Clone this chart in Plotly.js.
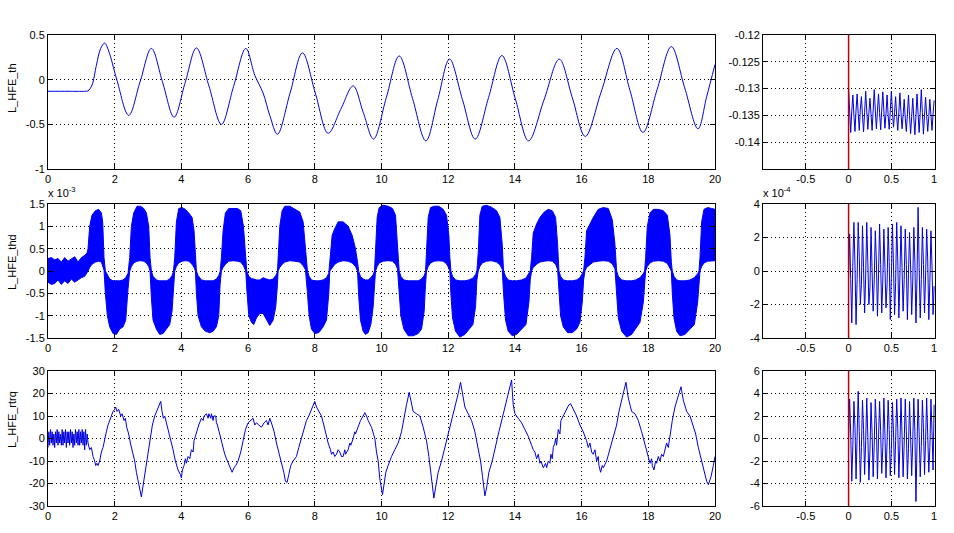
<!DOCTYPE html>
<html><head><meta charset="utf-8">
<script src="https://cdn.plot.ly/plotly-3.0.1.min.js"></script>
<style>html,body{margin:0;padding:0;background:#fff}#chart{width:954px;height:533px}</style>
</head><body><div id="chart"></div><script>
// ---------- data ----------
const thTime = [0,0.6,1.1,1.2,1.32,1.45,1.58,1.70,1.82,2.06,2.42,2.76,3.10,3.44,3.78,4.115,4.45,4.825,5.20,5.565,5.93,6.2,6.45,6.65,6.88,7.255,7.63,8.015,8.40,8.775,9.15,9.455,9.76,10.145,10.53,10.93,11.33,11.685,12.04,12.425,12.81,13.21,13.61,14.01,14.41,14.87,15.33,15.72,16.11,16.585,17.06,17.45,17.84,18.265,18.69,19.09,19.49,19.75,20.0];
const thValue = [-0.13,-0.13,-0.13,-0.125,-0.06,0.16,0.35,0.41,0.32,0.005,-0.40,-0.025,0.35,-0.035,-0.42,-0.03,0.355,-0.07,-0.50,-0.075,0.35,0.05,-0.15,-0.40,-0.61,-0.155,0.30,-0.15,-0.60,-0.335,-0.07,-0.37,-0.665,-0.20,0.265,-0.21,-0.685,-0.23,0.23,-0.22,-0.665,-0.20,0.27,-0.21,-0.685,-0.23,0.23,-0.20,-0.635,-0.14,0.35,-0.12,-0.59,-0.11,0.37,-0.09,-0.55,-0.19,0.17];

// L_HFE_thd envelope (units of 1e-3)
const thdTime = [0,0.1,0.2,0.3,0.4,0.5,0.6,0.7,0.8,0.9,1.0,1.1,1.17,
 1.2,1.25,1.32,1.42,1.52,1.6,1.64,1.68,
 1.72,1.78,1.85,1.95,2.05,2.15,2.25,2.33,2.40,
 2.45,2.5,2.57,2.67,2.77,2.87,2.95,3.02,3.06,
 3.1,3.15,3.25,3.35,3.45,3.55,3.65,3.72,3.76,
 3.8,3.85,3.92,4.02,4.12,4.22,4.32,4.38,4.42,
 4.45,4.5,4.6,4.72,4.85,4.95,5.05,5.12,5.16,
 5.2,5.25,5.32,5.42,5.55,5.68,5.78,5.86,5.93,
 5.96,6.02,6.1,6.17,6.25,6.35,6.45,6.55,6.65,6.75,6.83,6.88,
 6.9,6.95,7.02,7.1,7.25,7.4,7.55,7.65,7.72,
 7.78,7.83,7.9,8.0,8.12,8.25,8.35,8.42,
 8.45,8.52,8.6,8.7,8.85,9.0,9.12,9.22,9.28,
 9.32,9.37,9.45,9.52,9.6,9.68,9.75,9.79,
 9.82,9.87,9.93,10.05,10.2,10.33,10.42,10.48,
 10.53,10.58,10.67,10.8,10.95,11.1,11.2,11.28,11.32,
 11.35,11.4,11.47,11.58,11.72,11.85,11.95,12.02,12.05,
 12.08,12.13,12.22,12.35,12.5,12.62,12.74,12.82,12.86,
 12.9,12.95,13.02,13.15,13.3,13.45,13.55,13.62,
 13.66,13.72,13.8,13.92,14.05,14.2,14.33,14.42,14.46,
 14.5,14.55,14.65,14.75,14.88,15.0,15.12,15.22,15.28,
 15.32,15.37,15.45,15.58,15.72,15.85,15.95,16.02,16.06,
 16.1,16.15,16.25,16.35,16.5,16.65,16.8,16.92,17.0,
 17.05,17.1,17.2,17.35,17.5,17.62,17.75,17.85,17.89,
 17.92,17.97,18.05,18.15,18.3,18.45,18.57,18.65,18.69,
 18.72,18.77,18.85,18.95,19.1,19.25,19.38,19.48,19.52,
 19.55,19.6,19.67,19.78,19.9,20.0];
const thdUpper = [0.28,0.30,0.25,0.28,0.20,0.30,0.22,0.28,0.32,0.20,0.30,0.35,0.40,
 0.5,1.0,1.25,1.35,1.38,1.3,1.1,0.3,
 0.0,-0.1,-0.18,-0.22,-0.22,-0.22,-0.2,-0.15,-0.05,
 0.3,1.0,1.3,1.45,1.45,1.4,1.3,1.0,0.3,
 0.0,-0.12,-0.2,-0.22,-0.22,-0.22,-0.18,-0.1,-0.02,
 0.3,1.1,1.4,1.42,1.38,1.3,1.2,0.9,0.3,
 0.0,-0.1,-0.2,-0.22,-0.22,-0.22,-0.18,-0.1,-0.02,
 0.3,0.9,1.3,1.4,1.4,1.4,1.35,1.0,0.3,
 0.0,-0.12,-0.17,-0.18,-0.2,-0.2,-0.15,-0.18,-0.2,-0.18,-0.1,-0.02,
 0.3,1.0,1.35,1.45,1.45,1.38,1.32,1.1,0.5,
 0.0,-0.12,-0.2,-0.22,-0.22,-0.2,-0.15,-0.05,
 0.2,0.8,0.95,1.1,1.1,1.0,0.8,0.5,0.2,
 -0.02,-0.12,-0.18,-0.2,-0.2,-0.15,-0.08,0.0,
 0.4,1.2,1.42,1.47,1.45,1.4,1.25,0.6,
 0.0,-0.12,-0.2,-0.22,-0.22,-0.22,-0.18,-0.1,-0.02,
 0.4,1.2,1.42,1.45,1.45,1.38,1.25,0.8,0.3,
 0.0,-0.12,-0.2,-0.22,-0.22,-0.2,-0.16,-0.08,0.0,
 0.4,1.25,1.45,1.47,1.43,1.35,1.2,0.6,
 0.0,-0.12,-0.2,-0.22,-0.22,-0.2,-0.16,-0.06,0.0,
 0.3,0.85,1.05,1.2,1.32,1.38,1.35,1.2,0.6,
 0.0,-0.12,-0.2,-0.22,-0.22,-0.2,-0.15,-0.06,0.0,
 0.3,0.9,1.05,1.2,1.38,1.42,1.4,1.15,0.6,
 0.0,-0.12,-0.2,-0.22,-0.22,-0.2,-0.15,-0.06,0.0,
 0.3,1.0,1.3,1.38,1.38,1.35,1.25,0.8,0.2,
 0.0,-0.12,-0.2,-0.22,-0.22,-0.2,-0.15,-0.06,0.0,
 0.3,1.1,1.38,1.42,1.4,1.38];
const thdLower = [-0.25,-0.30,-0.28,-0.20,-0.30,-0.22,-0.28,-0.18,-0.25,-0.20,-0.15,-0.12,-0.05,
 0.0,0.08,0.15,0.2,0.22,0.2,0.12,0.02,
 -0.5,-1.0,-1.25,-1.4,-1.42,-1.3,-1.25,-1.1,-0.4,
 0.0,0.1,0.18,0.22,0.23,0.22,0.18,0.1,0.0,
 -0.6,-1.1,-1.3,-1.42,-1.4,-1.3,-1.2,-0.9,-0.3,
 0.0,0.1,0.18,0.22,0.23,0.22,0.15,0.08,0.0,
 -0.5,-1.0,-1.25,-1.35,-1.38,-1.35,-1.25,-1.0,-0.3,
 0.0,0.08,0.15,0.22,0.23,0.22,0.2,0.12,0.0,
 -0.4,-1.0,-1.15,-1.2,-1.05,-0.95,-0.95,-1.1,-1.22,-1.1,-0.8,-0.3,
 0.0,0.08,0.15,0.2,0.23,0.22,0.2,0.12,0.03,
 -0.5,-1.0,-1.3,-1.4,-1.38,-1.25,-1.1,-0.5,
 0.0,0.08,0.15,0.2,0.23,0.22,0.18,0.1,0.0,
 -0.6,-1.1,-1.35,-1.42,-1.38,-1.2,-0.8,-0.2,
 0.0,0.1,0.18,0.22,0.23,0.22,0.15,0.05,
 -0.5,-1.0,-1.3,-1.45,-1.45,-1.4,-1.3,-0.9,-0.3,
 0.0,0.1,0.18,0.22,0.23,0.22,0.16,0.06,0.0,
 -0.5,-1.05,-1.35,-1.48,-1.42,-1.3,-1.2,-0.8,-0.2,
 0.0,0.1,0.18,0.22,0.23,0.2,0.14,0.04,
 -0.5,-1.1,-1.35,-1.45,-1.42,-1.3,-1.2,-0.7,-0.2,
 0.0,0.08,0.15,0.2,0.22,0.23,0.22,0.15,0.04,
 -0.5,-1.0,-1.25,-1.38,-1.38,-1.3,-1.15,-0.7,-0.2,
 0.0,0.08,0.15,0.2,0.22,0.23,0.22,0.16,0.05,
 -0.5,-1.05,-1.35,-1.48,-1.42,-1.3,-1.15,-0.7,-0.2,
 0.0,0.1,0.18,0.22,0.23,0.22,0.17,0.06,0.0,
 -0.5,-1.05,-1.35,-1.45,-1.42,-1.3,-1.2,-0.7,-0.2,
 0.0,0.1,0.18,0.22,0.23,0.23];

const rtrqTime = [0,0.025,0.05,0.075,0.1,0.125,0.15,0.175,0.2,0.225,0.25,0.275,0.3,0.325,0.35,0.375,0.4,0.425,0.45,0.475,0.5,0.525,0.55,0.575,0.6,0.625,0.65,0.675,0.7,0.725,0.75,0.775,0.8,0.825,0.85,0.875,0.9,0.925,0.95,0.975,1.0,1.025,1.05,1.075,1.1,1.125,1.15,1.175,
 1.2,1.25,1.3,1.35,1.4,1.43,1.47,1.5,1.55,1.6,
 1.65,1.7,1.75,1.8,1.85,1.9,1.95,2.0,2.03,2.07,
 2.12,2.18,2.22,2.28,2.32,2.36,2.42,2.47,2.53,2.6,
 2.65,2.7,2.76,2.8,2.84,2.88,2.93,2.98,3.03,3.08,
 3.13,3.2,3.28,3.35,3.38,3.42,3.46,3.5,3.55,3.62,
 3.68,3.75,3.82,3.9,3.97,4.0,4.03,4.08,4.12,4.15,
 4.2,4.25,4.3,4.35,4.38,4.45,4.52,4.6,4.65,4.68,
 4.75,4.8,4.82,4.88,4.9,4.95,4.97,5.03,5.05,5.08,
 5.15,5.22,5.3,5.38,5.45,5.52,5.58,5.63,5.7,5.78,
 5.85,5.92,6.0,6.08,6.15,6.2,6.25,6.32,6.4,6.48,
 6.55,6.6,6.65,6.72,6.78,6.85,6.92,7.0,7.07,7.12,
 7.17,7.22,7.28,7.35,7.45,7.52,7.6,7.68,7.75,7.82,
 7.9,7.97,8.0,8.05,8.12,8.2,8.27,8.33,8.4,8.47,
 8.5,8.55,8.6,8.65,8.7,8.75,8.8,8.85,8.9,8.92,
 9.0,9.05,9.08,9.15,9.2,9.22,9.3,9.37,9.45,9.5,
 9.55,9.6,9.7,9.8,9.85,9.9,9.95,10.0,10.03,10.08,
 10.13,10.2,10.3,10.4,10.5,10.6,10.68,10.75,10.83,10.9,
 10.95,11.05,11.15,11.25,11.35,11.42,11.5,11.57,11.62,11.7,
 11.8,11.9,12.0,12.1,12.2,12.3,12.37,12.43,12.5,12.6,
 12.7,12.8,12.9,12.97,13.03,13.1,13.15,13.22,13.32,13.42,
 13.52,13.62,13.72,13.8,13.9,13.95,14.0,14.1,14.2,14.3,
 14.4,14.5,14.55,14.6,14.65,14.7,14.75,14.78,14.85,14.92,
 14.95,15.0,15.05,15.08,15.12,15.15,15.2,15.22,15.25,15.3,
 15.35,15.38,15.45,15.55,15.62,15.67,15.75,15.85,15.95,16.05,
 16.15,16.2,16.25,16.3,16.35,16.4,16.45,16.5,16.52,16.57,
 16.62,16.65,16.75,16.85,16.95,17.05,17.12,17.2,17.28,17.33,
 17.4,17.5,17.6,17.7,17.8,17.9,17.98,18.05,18.1,18.12,
 18.17,18.22,18.25,18.3,18.35,18.4,18.45,18.5,18.55,18.6,
 18.65,18.72,18.8,18.88,18.98,19.05,19.15,19.25,19.32,19.42,
 19.5,19.6,19.68,19.75,19.8,19.88,19.95,20.0];
const rtrqValue = [-4,3,-3,4,-2,3,-3,2,-4,3,-2,4,-3,3,-2,2,-3,4,-3,3,-2,4,-4,3,-2,3,-3,4,-2,3,-4,2,-3,4,-2,3,-3,4,-3,3,-2,4,-3,3,-5,4,-3,2,
 -2,-5,-4,-8,-10,-12,-11,-12,-10,-6,
 -4,0,3,6,8,10,12,13,14,12,
 13,10,11,8,9,5,2,-2,-6,-10,
 -15,-19,-24,-26,-22,-18,-12,-7,-2,3,
 6,10,13,15,16.5,12,9,10,7,3,
 0,-5,-10,-14,-16,-17.5,-14,-12,-9,-11,
 -8,-9,-5,-6,-1,3,6,9,8,10,
 11,9,11,9,11,8,10,10,7,6,
 2,-3,-7,-10,-13,-15,-13,-12,-10,-6,
 -1,4,7,8,9,6,7,6,5,7,
 8,6,9,6,3,-2,-6,-10,-15,-19,
 -19.5,-16,-12,-10,-8,-4,0,4,8,10,
 13,15,16.5,14,12,10,6,2,-2,-5,
 -7,-6,-8,-7,-5,-6,-8,-8,-5,-7,
 -5,-2,-3,0,3,2,5,8,10,11.5,
 10,8,5,0,-6,-10,-18,-22,-25,-20,
 -15,-12,-8,-5,-2,3,10,15,20.5,15,
 12,11,10,5,-1,-8,-18,-26.5,-22,-15,
 -10,-4,2,8,13,20,25,20,14,11,
 8,3,-4,-10,-17,-25.5,-22,-15,-10,-3,
 3,9,15,20,26,15,11,9,7,4,
 1,-3,-5,-6,-9,-7,-11,-10,-13,-11,
 -13,-10,-11,-7,-9,-4,-2,0,-3,4,
 2,8,10,13,15,15.5,13,10,6,3,
 -1,-4,-2,-6,-7,-5,-10,-8,-12,-15,
 -12,-13,-10,-5,0,6,12,17,22,25,
 18,12,11,8,3,-3,-8,-11,-9,-12,
 -14,-10,-11,-8,-10,-7,-8,-5,-2,-4,
 2,8,14,18,23,17,12,10,7,2,
 -4,-10,-16,-19,-20.5,-17,-12,-8];

// zoomed window (right column)
const zoomTime = [0,0.0125,0.025,0.0375,0.05,0.0625,0.075,0.0875,0.1,0.1125,0.125,0.1375,0.15,0.1625,0.175,0.1875,0.2,0.2125,0.225,0.2375,0.25,0.2625,0.275,0.2875,0.3,0.3125,0.325,0.3375,0.35,0.3625,0.375,0.3875,0.4,0.4125,0.425,0.4375,0.45,0.4625,0.475,0.4875,0.5,0.5125,0.525,0.5375,0.55,0.5625,0.575,0.5875,0.6,0.6125,0.625,0.6375,0.65,0.6625,0.675,0.6875,0.7,0.7125,0.725,0.7375,0.75,0.7625,0.775,0.7875,0.8,0.8125,0.825,0.8375,0.85,0.8625,0.875,0.8875,0.9,0.9125,0.925,0.9375,0.95,0.9625,0.975,0.9875,1.0];
const zoomTh = [-0.1300,-0.1345,-0.1382,-0.1342,-0.1312,-0.1350,-0.1380,-0.1340,-0.1310,-0.1346,-0.1378,-0.1338,-0.1315,-0.1350,-0.1381,-0.1344,-0.1305,-0.1342,-0.1376,-0.1345,-0.1318,-0.1348,-0.1378,-0.1340,-0.1302,-0.1340,-0.1375,-0.1342,-0.1310,-0.1345,-0.1377,-0.1340,-0.1306,-0.1342,-0.1374,-0.1346,-0.1312,-0.1350,-0.1376,-0.1341,-0.1305,-0.1342,-0.1372,-0.1345,-0.1315,-0.1352,-0.1378,-0.1344,-0.1308,-0.1345,-0.1375,-0.1350,-0.1320,-0.1355,-0.1380,-0.1348,-0.1312,-0.1350,-0.1384,-0.1352,-0.1318,-0.1355,-0.1386,-0.1350,-0.1310,-0.1348,-0.1382,-0.1344,-0.1302,-0.1345,-0.1385,-0.1350,-0.1316,-0.1350,-0.1380,-0.1352,-0.1320,-0.1350,-0.1378,-0.1348,-0.1322];
// units of 1e-4
const zoomThd = [-0.3,2.2,-0.5,-3.1,0.5,2.9,0.3,-3.2,-0.5,2.9,0.8,-2.0,-0.8,2.7,0.2,-2.5,-0.3,2.9,0.5,-2.0,-1.0,2.6,0.0,-2.4,-0.5,2.4,0.6,-2.7,-0.2,2.8,0.4,-2.5,-0.6,2.5,0.2,-2.2,-0.8,2.6,0.5,-2.9,-0.4,2.8,0.3,-2.6,-0.7,2.9,0.6,-2.8,-0.3,2.7,0.2,-2.4,-0.5,2.5,0.4,-2.9,-0.2,2.3,0.3,-2.6,-0.6,2.6,0.5,-3.1,-0.4,3.8,0.2,-2.8,-0.5,2.6,0.4,-2.5,-0.3,2.5,0.6,-2.9,-0.7,2.4,0.3,-2.6,-0.9];
const zoomRtrq = [0.0,3.5,0.4,-3.8,-0.6,3.3,1.0,-3.6,0.2,4.2,0.6,-3.9,-0.8,3.4,0.8,-3.2,-0.2,3.6,0.2,-3.7,-1.0,3.2,0.5,-3.4,-0.5,3.5,1.2,-3.6,0.0,3.3,0.6,-3.1,-0.8,3.6,0.4,-3.5,-0.3,3.4,0.8,-3.3,-1.0,3.2,0.5,-3.2,-0.2,3.5,0.9,-3.5,-0.6,3.6,0.3,-3.4,-0.4,3.5,0.7,-3.6,-0.9,3.3,0.2,-3.3,-0.3,3.6,0.6,-5.6,-0.5,3.5,0.4,-3.4,-0.7,3.4,1.0,-3.2,-0.2,3.6,0.3,-3.0,-0.8,3.5,0.6,-2.8,3.0];
const triggerTime = 0;

// tick labels
const timeTicks = [0,2,4,6,8,10,12,14,16,18,20];
const timeLabels = ['0','2','4','6','8','10','12','14','16','18','20'];
const thTicks = [-1,-0.5,0,0.5];
const thLabels = ['-1','-0.5','0','0.5'];
const thdTicks = [-1.5,-1,-0.5,0,0.5,1,1.5];
const thdLabels = ['-1.5','-1','-0.5','0','0.5','1','1.5'];
const rtrqTicks = [-30,-20,-10,0,10,20,30];
const rtrqLabels = ['-30','-20','-10','0','10','20','30'];
const zoomTicks = [-0.5,0,0.5,1];
const zoomLabels = ['-0.5','0','0.5','1'];
const zoomThTicks = [-0.14,-0.135,-0.13,-0.125,-0.12];
const zoomThLabels = ['-0.14','-0.135','-0.13','-0.125','-0.12'];
const zoomThdTicks = [-4,-2,0,2,4];
const zoomThdLabels = ['-4','-2','0','2','4'];
const zoomRtrqTicks = [-6,-4,-2,0,2,4,6];
const zoomRtrqLabels = ['-6','-4','-2','0','2','4','6'];

// ---------- drawing ----------
const BLUE = '#0000ff';
const LINE = '#0000e0';
const FONT = {family: 'Liberation Sans, Arial, sans-serif', size: 11, color: '#000'};
const W = 954, H = 533;
const px = v => v / W, py = v => 1 - v / H;

function ax(domain, range, ticks, labels, anchor) {
  return {
    domain: domain, range: range, anchor: anchor,
    tickmode: 'array', tickvals: ticks, ticktext: labels,
    showline: true, linecolor: '#000', linewidth: 1, mirror: 'ticks',
    ticks: 'inside', ticklen: 5, tickcolor: '#000', tickwidth: 1,
    showgrid: true, gridcolor: '#000', gridwidth: 1, griddash: '1px,3px',
    zeroline: false, tickfont: FONT, fixedrange: true
  };
}

const leftX = [px(48), px(715)];
const rightX = [px(763), px(935)];
const rowTop = [py(169), py(35)];
const rowMid = [py(338), py(204)];
const rowBot = [py(506), py(371)];

const traces = [
  {x: thTime, y: thValue, xaxis: 'x', yaxis: 'y', type: 'scatter', mode: 'lines',
   line: {color: LINE, width: 1, shape: 'spline', smoothing: 1}},
  {x: zoomTime, y: zoomTh, xaxis: 'x2', yaxis: 'y2', type: 'scatter', mode: 'lines',
   line: {color: LINE, width: 1}},
  {x: thdTime, y: thdLower, xaxis: 'x3', yaxis: 'y3', type: 'scatter', mode: 'lines',
   line: {color: BLUE, width: 1}},
  {x: thdTime, y: thdUpper, xaxis: 'x3', yaxis: 'y3', type: 'scatter', mode: 'lines',
   fill: 'tonexty', fillcolor: BLUE, line: {color: BLUE, width: 1}},
  {x: zoomTime, y: zoomThd, xaxis: 'x4', yaxis: 'y4', type: 'scatter', mode: 'lines',
   line: {color: LINE, width: 1}},
  {x: rtrqTime, y: rtrqValue, xaxis: 'x5', yaxis: 'y5', type: 'scatter', mode: 'lines',
   line: {color: LINE, width: 1}},
  {x: zoomTime, y: zoomRtrq, xaxis: 'x6', yaxis: 'y6', type: 'scatter', mode: 'lines',
   line: {color: LINE, width: 1}}
];

function vline(n) {
  return {type: 'line', xref: 'x' + n, yref: 'y' + n + ' domain', x0: triggerTime, x1: triggerTime,
          y0: 0, y1: 1, line: {color: '#b80000', width: 1.5}};
}

function ylab(text, yc) {
  return {text: text, xref: 'paper', yref: 'paper', x: px(12), y: py(yc), textangle: -90,
          showarrow: false, xanchor: 'center', yanchor: 'middle', font: FONT};
}
function expo(text, xl) {
  return {text: text, xref: 'paper', yref: 'paper', x: px(xl), y: py(192), showarrow: false,
          xanchor: 'left', yanchor: 'middle', font: FONT};
}

const layout = {
  width: W, height: H, margin: {l: 0, r: 0, t: 0, b: 0},
  paper_bgcolor: '#fff', plot_bgcolor: '#fff', showlegend: false,
  xaxis: ax(leftX, [0, 20], timeTicks, timeLabels, 'y'),
  yaxis: ax(rowTop, [-1, 0.5], thTicks, thLabels, 'x'),
  xaxis2: ax(rightX, [-1, 1.01], zoomTicks, zoomLabels, 'y2'),
  yaxis2: ax(rowTop, [-0.145, -0.12], zoomThTicks, zoomThLabels, 'x2'),
  xaxis3: ax(leftX, [0, 20], timeTicks, timeLabels, 'y3'),
  yaxis3: ax(rowMid, [-1.5, 1.5], thdTicks, thdLabels, 'x3'),
  xaxis4: ax(rightX, [-1, 1.01], zoomTicks, zoomLabels, 'y4'),
  yaxis4: ax(rowMid, [-4, 4], zoomThdTicks, zoomThdLabels, 'x4'),
  xaxis5: ax(leftX, [0, 20], timeTicks, timeLabels, 'y5'),
  yaxis5: ax(rowBot, [-30, 30], rtrqTicks, rtrqLabels, 'x5'),
  xaxis6: ax(rightX, [-1, 1.01], zoomTicks, zoomLabels, 'y6'),
  yaxis6: ax(rowBot, [-6, 6], zoomRtrqTicks, zoomRtrqLabels, 'x6'),
  shapes: [vline(2), vline(4), vline(6)],
  annotations: [
    ylab('L_HFE_th', 88), ylab('L_HFE_thd', 262), ylab('L_HFE_rtrq', 420),
    expo('x 10<sup>-3</sup>', 46), expo('x 10<sup>-4</sup>', 761)
  ]
};

Plotly.newPlot('chart', traces, layout, {displayModeBar: false, staticPlot: true});
</script></body></html>
